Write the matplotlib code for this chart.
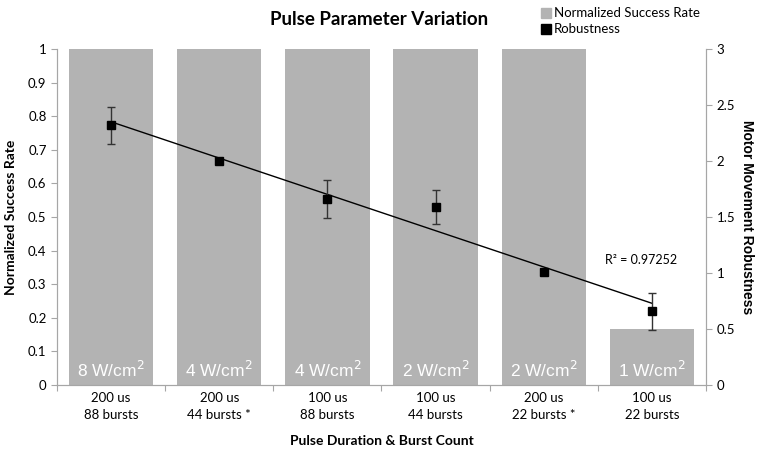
import matplotlib.pyplot as plt
import numpy as np
from matplotlib.lines import Line2D

plt.rcParams['font.family'] = ['Lato', 'DejaVu Sans']

# data
labels = ['200 us\n88 bursts', '200 us\n44 bursts *', '100 us\n88 bursts',
          '100 us\n44 bursts', '200 us\n22 bursts *', '100 us\n22 bursts']
intensity = ['8', '4', '4', '2', '2', '1']
success = [1.0, 1.0, 1.0, 1.0, 1.0, 0.167]
robust = [2.32, 2.00, 1.66, 1.59, 1.01, 0.66]
robust_err = [0.165, 0.0, 0.17, 0.15, 0.0, 0.165]

x = np.arange(1, 7)
grey = '#b3b3b3'
axcol = '#a6a6a6'

fig = plt.figure(figsize=(7.59, 4.55), dpi=100)
ax = fig.add_axes([0.0751, 0.1538, 0.855, 0.7385])
ax2 = ax.twinx()

ax.bar(x, success, width=0.78, color=grey, zorder=1)
for xi, s in zip(x, intensity):
    ax.text(xi, 0.045, s + ' W/cm$^2$', color='white', ha='center', va='center',
            fontsize=12.5, family='Liberation Sans')

ax.set_xlim(0.5, 6.5)
ax.set_ylim(0, 1)
ax.set_yticks(np.arange(0, 1.01, 0.1))
ax.set_yticklabels(['0'] + ['%.1f' % v for v in np.arange(0.1, 0.95, 0.1)] + ['1'])
ax.set_xticks(np.arange(0.5, 6.6, 1))
ax.set_xticklabels([])
ax.set_xticks(x, minor=True)
ax.set_xticklabels(labels, minor=True, fontsize=9.5, linespacing=1.5)
ax.tick_params(axis='x', which='minor', length=0, pad=5)
ax.tick_params(axis='x', which='major', length=4, color=axcol)
ax.tick_params(axis='y', length=4, color=axcol, labelsize=9.5)
ax.set_ylabel('Normalized Success Rate', fontsize=10, fontweight='bold', labelpad=8)
ax.set_xlabel('Pulse Duration & Burst Count', fontsize=10, fontweight='bold', labelpad=10)

ax.spines['top'].set_visible(False)
ax2.spines['top'].set_visible(False)
for a in (ax, ax2):
    for sp in ['left', 'right', 'bottom']:
        a.spines[sp].set_color(axcol)

# robustness with linear trend
ax2.errorbar(x, robust, yerr=robust_err, fmt='s', color='black', ms=6,
             ecolor='#333333', elinewidth=1, capsize=3, zorder=3)
m, b = np.polyfit(x, robust, 1)
ax2.plot([1, 6], [m * 1 + b, m * 6 + b], color='black', lw=1, zorder=2)
ax2.text(5.9, 1.12, 'R² = 0.97252', fontsize=9, ha='center', va='center')

ax2.set_ylim(0, 3)
ax2.set_yticks(np.arange(0, 3.01, 0.5))
ax2.set_yticklabels(['0', '0.5', '1', '1.5', '2', '2.5', '3'])
ax2.tick_params(axis='y', length=4, color=axcol, labelsize=9.5)
ax2.set_ylabel('Motor Movement Robustness', fontsize=10, fontweight='bold',
               rotation=-90, va='center', ha='center', family='Liberation Sans')
ax2.yaxis.set_label_coords(1.064, 0.5)

fig.text(0.50, 0.958, 'Pulse Parameter Variation', fontsize=13.5, fontweight='bold',
         ha='center', va='center')
handles = [Line2D([], [], marker='s', ls='', color=grey, ms=7),
           Line2D([], [], marker='s', ls='', color='black', ms=7)]
fig.legend(handles, ['Normalized Success Rate', 'Robustness'], loc='upper left',
           bbox_to_anchor=(0.695, 1.01), frameon=False, fontsize=9.5,
           handletextpad=0.1, labelspacing=0.3, handlelength=1)

fig.savefig('out.png', dpi=100)
